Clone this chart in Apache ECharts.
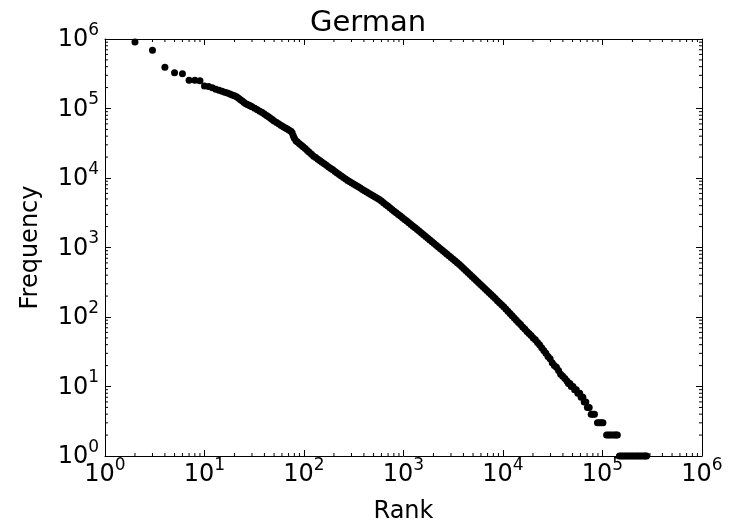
<!DOCTYPE html>
<html><head><meta charset="utf-8">
<script src="https://cdn.jsdelivr.net/npm/echarts@6/dist/echarts.min.js"></script>
<style>html,body{margin:0;padding:0;background:#fff}#c{width:736px;height:529px}</style>
</head><body><div id="c"></div>
<script>
const chartTitle = 'German';
const xAxisName = 'Rank';
const yAxisName = 'Frequency';
const axisMin = 1, axisMax = 1e6;

// top-ranked words (rank 1 lies above the plotted range)
const headRank = [2, 3, 4, 5, 6, 7, 8, 9];
const headFreq = [906000, 687000, 392000, 327000, 316000, 255000, 255000, 251000];

// the continuous-looking body of the curve
const bodyRank = [10,11,12,13,14,15,16,17,18,19,20,21,22,23,24,25,26,27,28,29,30,32,34,36,38,40,42,44,46,48,50,53,56,59,62,65,68,71,74,76,78,80,83,86,90,94,98,103,108,113,119,125,131,138,145,152,160,168,177,186,195,205,215,226,237,249,262,275,289,303,318,334,351,368,387,406,427,448,470,494,519,545,572,600,630,662,695,730,766,805,845,887,931,978,1027,1078,1132,1188,1248,1310,1376,1444,1516,1592,1672,1755,1843,1935,2032,2133,2240,2352,2470,2593,2723,2859,3002,3152,3310,3475,3649,3831,4023,4224,4435,4657,4890,5134,5391,5660,5943,6241,6553,6880,7224,7586,7965,8363,8782,9221,9682,10166,10674,11208,11768,12357,12975,13623,14305,15020,15771,16560,17388,18257,19170,20128,21135,22191,23301,24466,25689,26974,28323,29739,31226,32787,34426,36148,37955,39853,41846,43938];
const bodyFreq = [211000,208000,199000,190000,183000,177000,172000,167000,162000,157000,152000,148000,141000,134000,128000,122000,117000,114000,111000,109000,106000,101000,96200,91600,87300,83600,79600,75900,72300,69200,66200,62700,59700,57100,54800,52600,50500,48800,47000,44600,40700,37300,34400,33000,31200,29600,28200,26500,24900,23500,21900,20600,19700,18600,17700,16900,16000,15200,14400,13700,13100,12400,11800,11200,10700,10200,9660,9230,8830,8480,8130,7780,7460,7160,6840,6560,6300,6040,5790,5540,5310,5100,4890,4650,4400,4160,3940,3720,3530,3330,3160,2990,2830,2680,2530,2400,2270,2150,2030,1920,1810,1710,1620,1530,1440,1360,1280,1210,1140,1080,1020,962,904,853,805,760,718,676,638,603,569,535,499,467,437,409,384,359,335,313,294,275,258,240,225,210,197,185,172,161,150,140,130,121,112,104,97,90,83,78,72,67,62,58,54,50,47,43,40,36,33,30,27,25,22,20,19,17,15,14,13,12];

// low-frequency tail, where integer counts form steps
const tailRank = [45500,47000,48500,50500,52500,54500,56500,59000,61000,63500,65500,68000,70500,73500,77000,80000,83000,89000,93000,97000,101000,110000,115000,120000,126000,132000,137000,141000,148000,155000,162000,170000,178000,186000,195000,204000,214000,224000,234000,245000,257000,268000,277000];
const tailFreq = [11,11,10,10,9,9,8,8,7,7,6,6,5,5,4,4,4,3,3,3,3,2,2,2,2,2,2,2,1,1,1,1,1,1,1,1,1,1,1,1,1,1,1];

const decadeMinorSteps = [2,3,4,5,6,7,8,9];

const points = [];
[[headRank, headFreq], [bodyRank, bodyFreq], [tailRank, tailFreq]].forEach(([r, f]) => {
  r.forEach((v, i) => points.push([v, f[i]]));
});

const minorValues = [];
for (let d = axisMin; d < axisMax; d *= 10) decadeMinorSteps.forEach(k => minorValues.push(k * d));

const FONT = 'DejaVu Sans';
const labelRich = {
  b: { fontSize: 24, fontFamily: FONT, color: '#000', lineHeight: 26, verticalAlign: 'bottom' },
  s: { fontSize: 17, fontFamily: FONT, color: '#000', lineHeight: 17, verticalAlign: 'bottom', padding: [0, 0, 13, 0] }
};
function powLabel(v) {
  const e = Math.round(Math.log10(v));
  return '{b|10}{s|' + e + '}';
}

const baseAxis = {
  type: 'log', logBase: 10, min: axisMin, max: axisMax, splitNumber: 6,
  axisLine: { show: true, onZero: false, lineStyle: { color: '#000', width: 1 } },
  axisTick: { show: true, inside: true, length: 6, lineStyle: { color: '#000', width: 1 } },
  splitLine: { show: false },
  minorTick: { show: false }
};

function minorRender(which) {
  return function (params, api) {
    const v = api.value(which === 'x' ? 0 : 1);
    const L = 3;
    const st = { stroke: '#000', lineWidth: 1 };
    if (which === 'x') {
      const a = api.coord([v, axisMin]);
      const b = api.coord([v, axisMax]);
      return { type: 'group', children: [
        { type: 'line', shape: { x1: a[0], y1: a[1], x2: a[0], y2: a[1] - L }, style: st },
        { type: 'line', shape: { x1: b[0], y1: b[1], x2: b[0], y2: b[1] + L }, style: st }
      ]};
    } else {
      const a = api.coord([axisMin, v]);
      const b = api.coord([axisMax, v]);
      return { type: 'group', children: [
        { type: 'line', shape: { x1: a[0], y1: a[1], x2: a[0] + L, y2: a[1] }, style: st },
        { type: 'line', shape: { x1: b[0], y1: b[1], x2: b[0] - L, y2: b[1] }, style: st }
      ]};
    }
  };
}

const chart = echarts.init(document.getElementById('c'), null, { renderer: 'canvas' });
chart.setOption({
  animation: false,
  backgroundColor: '#fff',
  title: {
    text: chartTitle, left: 'center', top: 4,
    textStyle: { fontFamily: FONT, fontSize: 29, fontWeight: 'normal', color: '#000' }
  },
  grid: { left: 105, top: 39, right: 34, bottom: 73, containLabel: false },
  xAxis: [
    Object.assign({}, baseAxis, {
      position: 'bottom',
      name: xAxisName, nameLocation: 'middle', nameGap: 44,
      nameTextStyle: { fontFamily: FONT, fontSize: 24, color: '#000' },
      axisLabel: { show: true, margin: 5, formatter: powLabel, rich: labelRich }
    }),
    Object.assign({}, baseAxis, { position: 'top', axisLabel: { show: false } })
  ],
  yAxis: [
    Object.assign({}, baseAxis, {
      position: 'left',
      name: yAxisName, nameLocation: 'middle', nameGap: 62, nameRotate: 90,
      nameTextStyle: { fontFamily: FONT, fontSize: 24, color: '#000' },
      axisLabel: { show: true, margin: 6, formatter: powLabel, rich: labelRich }
    }),
    Object.assign({}, baseAxis, { position: 'right', axisLabel: { show: false } })
  ],
  series: [
    {
      type: 'scatter', xAxisIndex: 0, yAxisIndex: 0,
      data: points, symbol: 'circle', symbolSize: 7,
      itemStyle: { color: '#000', opacity: 1 }, silent: true
    },
    {
      type: 'custom', xAxisIndex: 0, yAxisIndex: 0, silent: true,
      data: minorValues.map(v => [v, axisMin]),
      renderItem: minorRender('x'), z: 5
    },
    {
      type: 'custom', xAxisIndex: 0, yAxisIndex: 0, silent: true,
      data: minorValues.map(v => [axisMin, v]),
      renderItem: minorRender('y'), z: 5
    }
  ]
});
</script>
</body></html>
